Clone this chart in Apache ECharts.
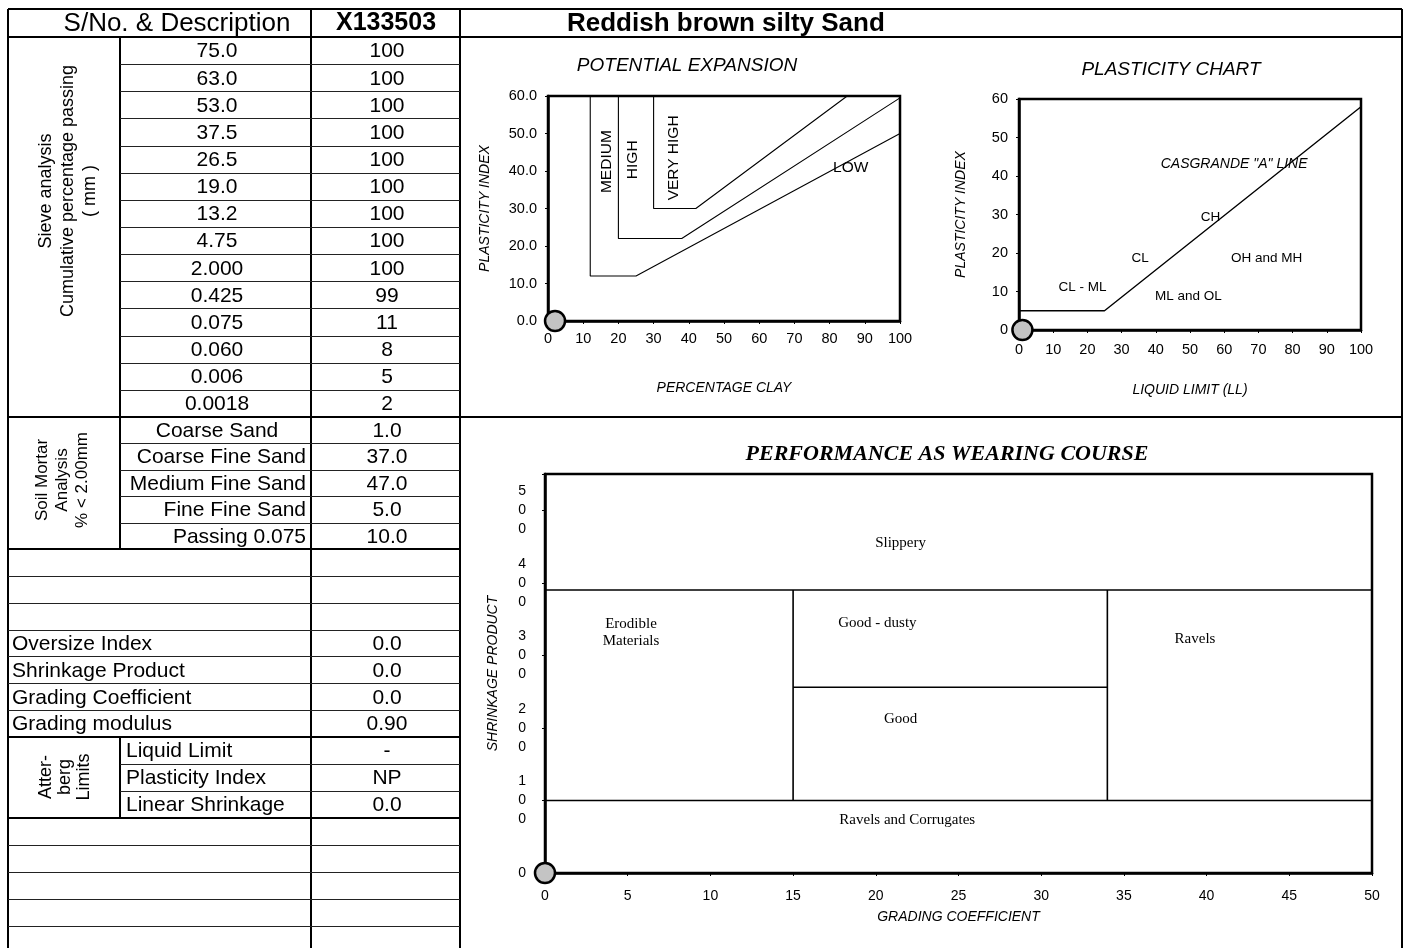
<!DOCTYPE html>
<html>
<head>
<meta charset="utf-8">
<script src="https://cdn.jsdelivr.net/npm/echarts@6/dist/echarts.min.js"></script>
<style>
  html, body { margin: 0; padding: 0; background: #fff; }
  #main { width: 1407px; height: 948px; }
</style>
</head>
<body>
<div id="main"></div>
<script>
// ---- table data ----
const sampleNo = 'X133503';
const sampleDesc = 'Reddish brown silty Sand';
const sieveSizes = ['75.0', '63.0', '53.0', '37.5', '26.5', '19.0', '13.2', '4.75', '2.000', '0.425', '0.075', '0.060', '0.006', '0.0018'];
const sievePassing = ['100', '100', '100', '100', '100', '100', '100', '100', '100', '99', '11', '8', '5', '2'];
const mortarLabels = ['Coarse Sand', 'Coarse Fine Sand', 'Medium Fine Sand', 'Fine Fine Sand', 'Passing 0.075'];
const mortarValues = ['1.0', '37.0', '47.0', '5.0', '10.0'];
const indexLabels = ['', '', '', 'Oversize Index', 'Shrinkage Product', 'Grading Coefficient', 'Grading modulus'];
const indexValues = ['', '', '', '0.0', '0.0', '0.0', '0.90'];
const attLabels = ['Liquid Limit', 'Plasticity Index', 'Linear Shrinkage'];
const attValues = ['-', 'NP', '0.0'];

// ---- potential expansion ----
const expLow = [[12, 60], [12, 12], [25, 12], [100, 50]];
const expHigh = [[20, 60], [20, 22], [38, 22], [100, 59.5]];
const expVeryHigh = [[30, 60], [30, 30], [42, 30], [85, 60]];
const expZones = ['MEDIUM', 'HIGH', 'VERY HIGH', 'LOW'];
const expZonePos = [[16.8, 42.5], [24.2, 43], [35.8, 43.5], [86, 40.8]];
const expSample = [[2, 0]];

// ---- plasticity chart ----
const aLine = [[0, 5], [25, 5], [100, 58]];
const plastZones = ['CASGRANDE "A" LINE', 'CH', 'CL', 'OH and MH', 'CL - ML', 'ML and OL'];
const plastZonePos = [[62.9, 43], [56, 29.2], [35.4, 18.7], [72.4, 18.7], [18.6, 11.2], [49.5, 8.7]];
const plastSample = [[1, 0]];

// ---- wearing course ----
const wearBounds = [
  [[0, 390], [50, 390]],
  [[0, 100], [50, 100]],
  [[15, 100], [15, 390]],
  [[34, 100], [34, 390]],
  [[15, 256], [34, 256]]
];
const wearZones = ['Slippery', 'Erodible\nMaterials', 'Good - dusty', 'Good', 'Ravels', 'Ravels and Corrugates'];
const wearZonePos = [[21.5, 455], [5.2, 331], [20.1, 344], [21.5, 212], [39.3, 323], [21.9, 73]];
const wearSample = [[0, 0]];

const SANS = '"Liberation Sans", Arial, sans-serif';
const SERIF = '"Liberation Serif", "Times New Roman", serif';

// ---- table graphic ----
const g = [];
function line(x1, y1, x2, y2, w) {
  g.push({ type: 'line', silent: true, shape: { x1: x1, y1: y1, x2: x2, y2: y2 },
    style: { stroke: w > 1.5 ? '#000' : '#222', lineWidth: w } });
}
function text(str, x, y, o) {
  o = o || {};
  const al = o.align || 'center';
  g.push({ type: 'text', silent: true, x: x, y: y, rotation: o.rot || 0,
    style: { text: str, fill: '#000', font: o.font || ('21px ' + SANS),
      align: al, textAlign: al, verticalAlign: 'middle', textVerticalAlign: 'middle',
      lineHeight: o.lh } });
}

const X0 = 8, X1 = 120, X2 = 311, X3 = 460, X4 = 1402;
const TOP = 9, HEAD = 37;
const secSieve = { top: 37, bottom: 417, n: 14 };
const secMortar = { top: 417, bottom: 549, n: 5 };
const secIndex = { top: 549, bottom: 737, n: 7 };
const secAtt = { top: 737, bottom: 818, n: 3 };
const secBottom = { top: 818, bottom: 953, n: 5 };
function rowY(sec, i) { const h = (sec.bottom - sec.top) / sec.n; return sec.top + (i + 0.5) * h + 1; }
function rowLines(sec, xa, xb) {
  const h = (sec.bottom - sec.top) / sec.n;
  for (let i = 1; i < sec.n; i++) line(xa, Math.round(sec.top + i * h) + 0.5, xb, Math.round(sec.top + i * h) + 0.5, 1);
}

// outer frame and section lines
line(X0, TOP, X4, TOP, 2);
line(X0, HEAD, X4, HEAD, 2);
line(X0, secSieve.bottom, X4, secSieve.bottom, 2);
line(X0, secMortar.bottom, X3, secMortar.bottom, 2);
line(X0, secIndex.bottom, X3, secIndex.bottom, 2);
line(X0, secAtt.bottom, X3, secAtt.bottom, 2);
line(X0, TOP, X0, 948, 2);
line(X2, TOP, X2, 948, 2);
line(X3, TOP, X3, 948, 2);
line(X4, TOP, X4, 948, 2);
line(X1, HEAD, X1, secMortar.bottom, 2);
line(X1, secAtt.top, X1, secAtt.bottom, 2);
rowLines(secSieve, X1, X3);
rowLines(secMortar, X1, X3);
rowLines(secIndex, X0, X3);
rowLines(secAtt, X1, X3);
rowLines(secBottom, X0, X3);

// header
text('S/No. & Description', 177, 23.5, { font: '26px ' + SANS });
text(sampleNo, 386, 23.5, { font: 'bold 25px ' + SANS });
text(sampleDesc, 567, 24, { font: 'bold 26px ' + SANS, align: 'left' });

// side captions
text('Sieve analysis\nCumulative percentage passing\n( mm )', 68, 191, { rot: Math.PI / 2, font: '18px ' + SANS, lh: 22 });
text('Soil Mortar\nAnalysis\n% < 2.00mm', 62, 480, { rot: Math.PI / 2, font: '17px ' + SANS, lh: 20 });
text('Atter-\nberg\nLimits', 65, 777, { rot: Math.PI / 2, font: '18px ' + SANS, lh: 19 });

sieveSizes.forEach(function (s, i) {
  text(s, 217, rowY(secSieve, i));
  text(sievePassing[i], 387, rowY(secSieve, i));
});
mortarLabels.forEach(function (s, i) {
  if (i === 0) text(s, 217, rowY(secMortar, i));
  else text(s, 306, rowY(secMortar, i), { align: 'right' });
  text(mortarValues[i], 387, rowY(secMortar, i));
});
indexLabels.forEach(function (s, i) {
  if (s) text(s, 12, rowY(secIndex, i), { align: 'left' });
  if (indexValues[i]) text(indexValues[i], 387, rowY(secIndex, i));
});
attLabels.forEach(function (s, i) {
  text(s, 126, rowY(secAtt, i), { align: 'left' });
  text(attValues[i], 387, rowY(secAtt, i));
});

// chart titles
text('POTENTIAL EXPANSION', 687, 66, { font: 'italic 19px ' + SANS });
text('PLASTICITY CHART', 1171, 70, { font: 'italic 19px ' + SANS });
text('PERFORMANCE AS WEARING COURSE', 947, 454, { font: 'italic bold 22px ' + SERIF });

// ---- axes ----
function axis(gridIndex, min, max, interval, name, nameGap, labelMargin, fmt, extra) {
  const a = {
    gridIndex: gridIndex, type: 'value', min: min, max: max, interval: interval,
    name: name, nameLocation: 'middle', nameGap: nameGap,
    nameTextStyle: { fontStyle: 'italic', fontSize: 14, color: '#000', fontFamily: SANS },
    axisLine: { show: true, onZero: false, lineStyle: { color: '#000', width: 2.5 } },
    axisTick: { show: true, length: 3, lineStyle: { color: '#000', width: 1 } },
    axisLabel: { color: '#000', fontSize: 14.5, fontFamily: SANS, margin: labelMargin, formatter: fmt },
    splitLine: { show: false }
  };
  return Object.assign(a, extra || {});
}

function boundary(data, xi, w) {
  return { type: 'line', xAxisIndex: xi, yAxisIndex: xi, data: data, symbol: 'none', silent: true,
    lineStyle: { color: '#000', width: w }, z: 3 };
}
function zoneLabels(names, pos, xi, font, rotFn) {
  return { type: 'scatter', xAxisIndex: xi, yAxisIndex: xi, symbolSize: 0, silent: true, z: 4,
    itemStyle: { opacity: 1, color: '#000' },
    data: names.map(function (n, i) {
      return { name: n, value: pos[i], label: { rotate: rotFn ? rotFn(n) : 0 } };
    }),
    label: { show: true, position: 'inside', formatter: '{b}', color: '#000', opacity: 1, lineHeight: 17,
      textBorderWidth: 0, fontFamily: font.family, fontSize: font.size, fontStyle: font.style || 'normal' } };
}
function sample(data, xi) {
  return { type: 'scatter', xAxisIndex: xi, yAxisIndex: xi, data: data, symbol: 'circle', symbolSize: 20,
    clip: false, silent: true, z: 10,
    itemStyle: { color: '#c4c4c4', borderColor: '#000', borderWidth: 2.5, opacity: 1 } };
}

const series = [];
[expLow, expHigh, expVeryHigh].forEach(function (d) { series.push(boundary(d, 0, 1.1)); });
series.push(zoneLabels(expZones, expZonePos, 0, { family: SANS, size: 15.5 }, function (n) { return n === 'LOW' ? 0 : 90; }));
series.push(sample(expSample, 0));

series.push(boundary(aLine, 1, 1.4));
const plastLabelSeries = zoneLabels(plastZones, plastZonePos, 1, { family: SANS, size: 13.5 });
plastLabelSeries.data[0].label.fontStyle = 'italic';
plastLabelSeries.data[0].label.fontSize = 14;
series.push(plastLabelSeries);
series.push(sample(plastSample, 1));

wearBounds.forEach(function (d) { series.push(boundary(d, 2, 1.6)); });
series.push(zoneLabels(wearZones, wearZonePos, 2, { family: SERIF, size: 15 }));
series.push(sample(wearSample, 2));

var option = {
  animation: false,
  backgroundColor: '#fff',
  grid: [
    { left: 548, top: 96, width: 352, height: 225, show: true, borderColor: '#000', borderWidth: 2.5, outerBoundsMode: 'none' },
    { left: 1019, top: 99, width: 342, height: 231, show: true, borderColor: '#000', borderWidth: 2.5, outerBoundsMode: 'none' },
    { left: 545, top: 474, width: 827, height: 399, show: true, borderColor: '#000', borderWidth: 2.5, outerBoundsMode: 'none' }
  ],
  xAxis: [
    axis(0, 0, 100, 10, 'PERCENTAGE CLAY', 60, 10),
    axis(1, 0, 100, 10, 'LIQUID LIMIT (LL)', 53, 12),
    axis(2, 0, 50, 5, 'GRADING COEFFICIENT', 37, 16, null, { axisLabel: { color: '#000', fontSize: 14, fontFamily: SANS, margin: 16 } })
  ],
  yAxis: [
    axis(0, 0, 60, 10, 'PLASTICITY INDEX', 56, 11, function (v) { return v.toFixed(1); }),
    axis(1, 0, 60, 10, 'PLASTICITY INDEX', 51, 11),
    axis(2, 0, 550, 100, 'SHRINKAGE PRODUCT', 45, 19, null, {
      axisLabel: { color: '#000', fontSize: 14, fontFamily: SANS, margin: 19, lineHeight: 19,
        formatter: function (v) { return v > 500 ? '' : String(v).split('').join('\n'); } }
    })
  ],
  series: series,
  graphic: { elements: g }
};

const chart = echarts.init(document.getElementById('main'), null, { renderer: 'canvas' });
chart.setOption(option);
</script>
</body>
</html>
